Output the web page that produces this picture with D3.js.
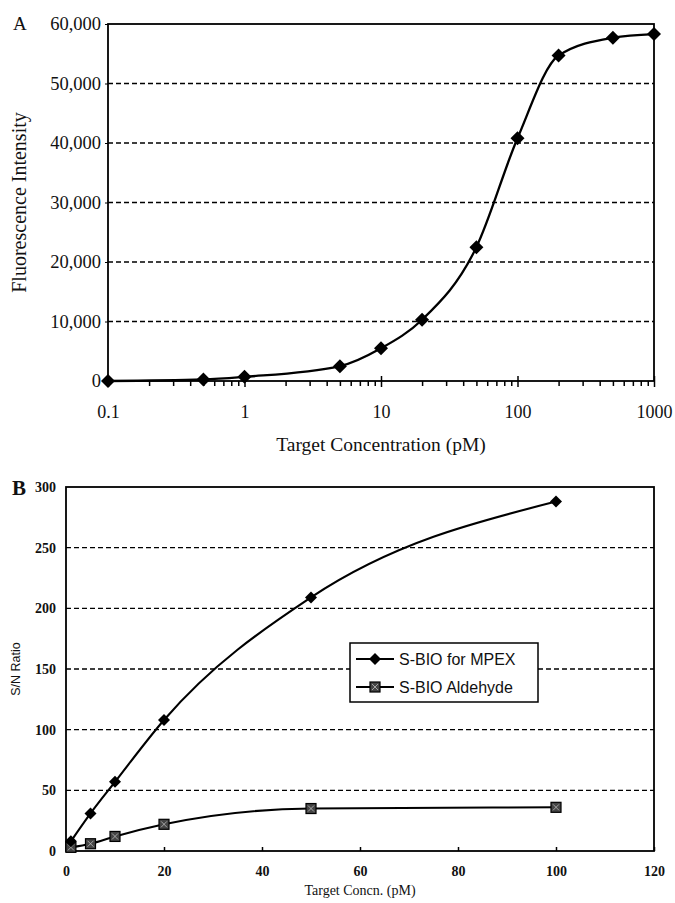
<!DOCTYPE html>
<html>
<head>
<meta charset="utf-8">
<script src="https://cdn.jsdelivr.net/npm/d3@7"></script>
<style>
  body { margin: 0; background: #fff; }
  svg { display: block; }
  text { fill: #111; }
</style>
</head>
<body>
<svg width="675" height="903"></svg>
<script>
// panel A: fluorescence vs target concentration (log x)
const concA = [0.1, 0.5, 1, 5, 10, 20, 50, 100, 200, 500, 1000];
const fluorA = [0, 250, 700, 2500, 5500, 10300, 22500, 40800, 54700, 57700, 58300];
const xTicksA = [0.1, 1, 10, 100, 1000];
const yTicksA = [0, 10000, 20000, 30000, 40000, 50000, 60000];

// panel B: S/N ratio vs target concentration
const concB = [1, 5, 10, 20, 50, 100];
const snMpex = [8, 31, 57, 108, 209, 288];
const snAldehyde = [3, 6, 12, 22, 35, 36];
const seriesB = ['S-BIO for MPEX', 'S-BIO Aldehyde'];
const xTicksB = [0, 20, 40, 60, 80, 100, 120];
const yTicksB = [0, 50, 100, 150, 200, 250, 300];

const svg = d3.select('svg');
const serif = 'Liberation Serif, Times New Roman, serif';
const sans = 'Liberation Sans, DejaVu Sans, sans-serif';

function diamond(g, x, y, r) {
  g.append('path')
    .attr('d', `M${x},${y - r}L${x + r},${y}L${x},${y + r}L${x - r},${y}Z`)
    .attr('fill', '#000');
}

function hatchSquare(g, x, y, r) {
  g.append('rect')
    .attr('x', x - r).attr('y', y - r)
    .attr('width', 2 * r).attr('height', 2 * r)
    .attr('fill', '#444').attr('stroke', '#000').attr('stroke-width', 1.2);
  g.append('path')
    .attr('d', `M${x - r + 2},${y - r + 2}L${x + r - 2},${y + r - 2}M${x + r - 2},${y - r + 2}L${x - r + 2},${y + r - 2}`)
    .attr('stroke', '#bbb').attr('stroke-width', 0.8);
}

// ---------- A ----------
const xA = d3.scaleLog().domain([0.1, 1000]).range([108, 654]);
const yA = d3.scaleLinear().domain([0, 60000]).range([381, 24]);
const gA = svg.append('g');

// dashed grid
gA.selectAll('line.grid')
  .data(yTicksA.filter(d => d > 0 && d < 60000))
  .enter().append('line')
  .attr('x1', xA(0.1)).attr('x2', xA(1000))
  .attr('y1', d => yA(d)).attr('y2', d => yA(d))
  .attr('stroke', '#000').attr('stroke-width', 1.4)
  .attr('stroke-dasharray', '5,3');

// frame
gA.append('rect')
  .attr('x', xA(0.1)).attr('y', yA(60000))
  .attr('width', xA(1000) - xA(0.1)).attr('height', yA(0) - yA(60000))
  .attr('fill', 'none').attr('stroke', '#000').attr('stroke-width', 1.8);

// x axis with minor log ticks below
const minorA = [];
for (let e = -1; e < 3; e++) {
  for (let m = 2; m <= 9; m++) minorA.push(m * Math.pow(10, e));
}
gA.append('g')
  .attr('transform', `translate(0,${yA(0)})`)
  .call(d3.axisBottom(xA).tickValues(minorA).tickSize(5).tickFormat(''))
  .call(g => g.select('.domain').remove())
  .call(g => g.selectAll('line').attr('stroke-width', 1.5));
gA.append('g')
  .attr('transform', `translate(0,${yA(0)})`)
  .call(d3.axisBottom(xA).tickValues(xTicksA).tickSize(6).tickPadding(18)
    .tickFormat(d => String(d)))
  .call(g => g.select('.domain').remove())
  .call(g => g.selectAll('line').attr('stroke-width', 1.5).attr('y1', -5))
  .call(g => g.selectAll('text').attr('font-family', serif).attr('font-size', 18));

// y axis
gA.append('g')
  .attr('transform', `translate(${xA(0.1)},0)`)
  .call(d3.axisLeft(yA).tickValues(yTicksA).tickSize(3).tickPadding(4)
    .tickFormat(d3.format(',')))
  .call(g => g.select('.domain').remove())
  .call(g => g.selectAll('text').attr('font-family', serif).attr('font-size', 18.5));

// curve + markers
const ptsA = concA.map((c, i) => [xA(c), yA(fluorA[i])]);
gA.append('path')
  .attr('d', d3.line().curve(d3.curveMonotoneX)(ptsA))
  .attr('fill', 'none').attr('stroke', '#000').attr('stroke-width', 2.3);
ptsA.forEach(p => diamond(gA, p[0], p[1], 7));

gA.append('text').attr('x', 13).attr('y', 30)
  .attr('font-family', serif).attr('font-size', 19).text('A');
gA.append('text')
  .attr('transform', `translate(26,${(yA(0) + yA(60000)) / 2}) rotate(-90)`)
  .attr('text-anchor', 'middle')
  .attr('font-family', serif).attr('font-size', 20)
  .text('Fluorescence Intensity');
gA.append('text')
  .attr('x', (xA(0.1) + xA(1000)) / 2).attr('y', 451)
  .attr('text-anchor', 'middle')
  .attr('font-family', serif).attr('font-size', 19.5)
  .text('Target Concentration (pM)');

// ---------- B ----------
const xB = d3.scaleLinear().domain([0, 120]).range([66, 654]);
const yB = d3.scaleLinear().domain([0, 300]).range([851, 487]);
const gB = svg.append('g');

gB.selectAll('line.grid')
  .data(yTicksB.filter(d => d > 0 && d < 300))
  .enter().append('line')
  .attr('x1', xB(0)).attr('x2', xB(120))
  .attr('y1', d => yB(d)).attr('y2', d => yB(d))
  .attr('stroke', '#000').attr('stroke-width', 1.4)
  .attr('stroke-dasharray', '5,3');

gB.append('rect')
  .attr('x', xB(0)).attr('y', yB(300))
  .attr('width', xB(120) - xB(0)).attr('height', yB(0) - yB(300))
  .attr('fill', 'none').attr('stroke', '#000').attr('stroke-width', 1.8);

gB.append('g')
  .attr('transform', `translate(0,${yB(0)})`)
  .call(d3.axisBottom(xB).tickValues(xTicksB).tickSize(-4).tickPadding(15)
    .tickFormat(d3.format('d')))
  .call(g => g.select('.domain').remove())
  .call(g => g.selectAll('line').attr('stroke-width', 1.5))
  .call(g => g.selectAll('text').attr('font-family', serif).attr('font-size', 14)
    .attr('font-weight', 'bold'));

gB.append('g')
  .attr('transform', `translate(${xB(0)},0)`)
  .call(d3.axisLeft(yB).tickValues(yTicksB).tickSize(0).tickPadding(10)
    .tickFormat(d3.format('d')))
  .call(g => g.select('.domain').remove())
  .call(g => g.selectAll('text').attr('font-family', serif).attr('font-size', 14)
    .attr('font-weight', 'bold'));

const lineB = d3.line().curve(d3.curveMonotoneX);
const ptsMpex = concB.map((c, i) => [xB(c), yB(snMpex[i])]);
const ptsAld = concB.map((c, i) => [xB(c), yB(snAldehyde[i])]);
gB.append('path').attr('d', lineB(ptsMpex))
  .attr('fill', 'none').attr('stroke', '#000').attr('stroke-width', 2.1);
gB.append('path').attr('d', lineB(ptsAld))
  .attr('fill', 'none').attr('stroke', '#000').attr('stroke-width', 2.1);
ptsAld.forEach(p => hatchSquare(gB, p[0], p[1], 5));
ptsMpex.forEach(p => diamond(gB, p[0], p[1], 6));

// legend
const leg = gB.append('g').attr('transform', 'translate(350,643)');
leg.append('rect').attr('width', 188).attr('height', 59)
  .attr('fill', '#fff').attr('stroke', '#000').attr('stroke-width', 1.5);
seriesB.forEach((name, i) => {
  const y = 16 + i * 28;
  leg.append('line').attr('x1', 6).attr('x2', 44).attr('y1', y).attr('y2', y)
    .attr('stroke', '#000').attr('stroke-width', 2);
  if (i === 0) diamond(leg, 25, y, 6); else hatchSquare(leg, 25, y, 5);
  leg.append('text').attr('x', 49).attr('y', y + 6)
    .attr('font-family', sans).attr('font-size', 16).text(name);
});

gB.append('text').attr('x', 12).attr('y', 495)
  .attr('font-family', serif).attr('font-size', 21).attr('font-weight', 'bold').text('B');
gB.append('text')
  .attr('transform', `translate(20,${(yB(0) + yB(300)) / 2}) rotate(-90)`)
  .attr('text-anchor', 'middle')
  .attr('font-family', sans).attr('font-size', 12.5)
  .text('S/N Ratio');
gB.append('text')
  .attr('x', (xB(0) + xB(120)) / 2).attr('y', 895)
  .attr('text-anchor', 'middle')
  .attr('font-family', serif).attr('font-size', 14)
  .text('Target Concn. (pM)');
</script>
</body>
</html>
